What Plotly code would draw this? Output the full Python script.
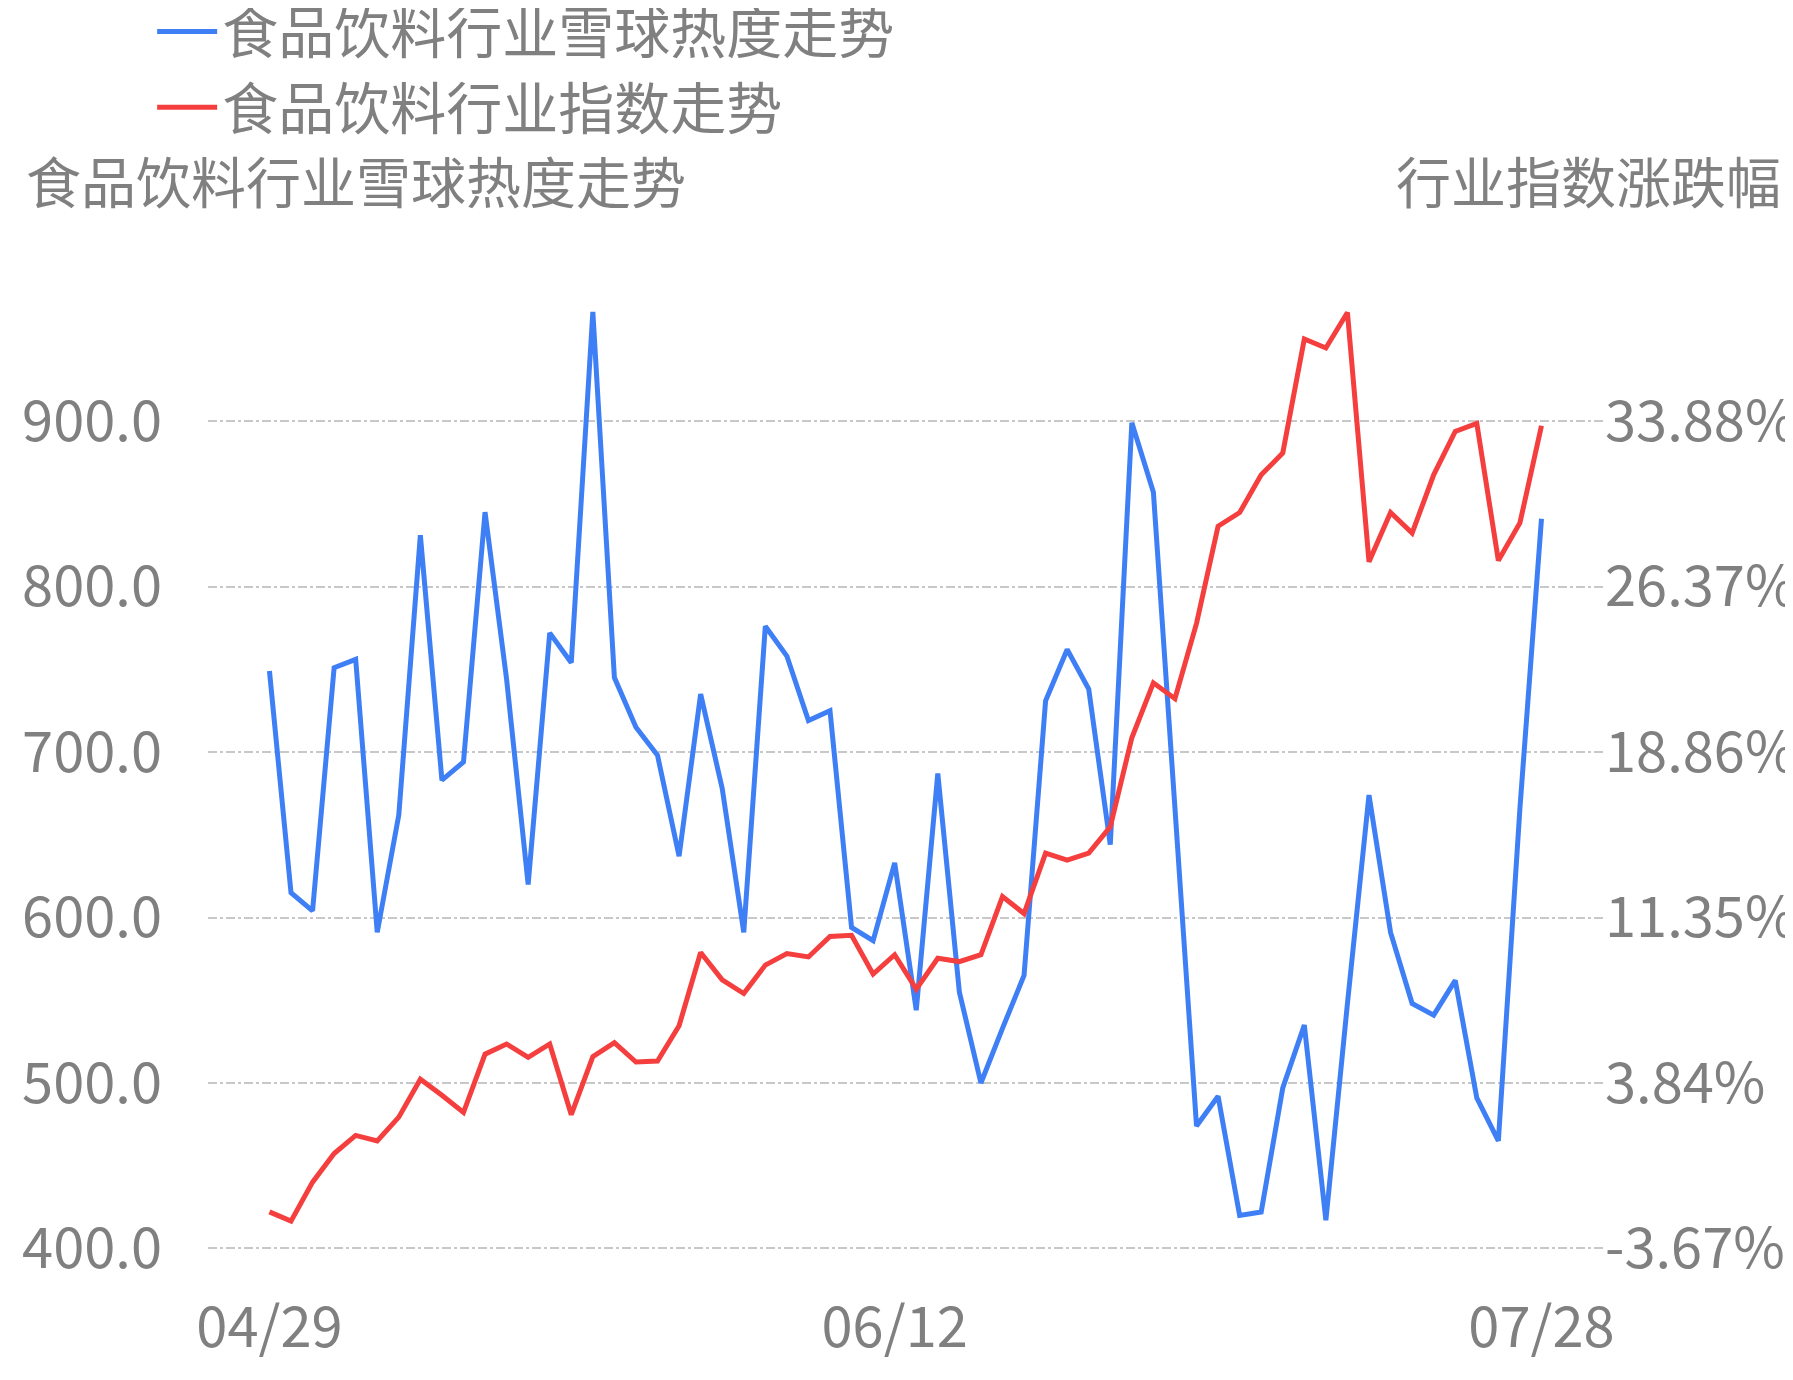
import plotly.graph_objects as go

dates = ["04/29", "06/12", "07/28"]
date_idx = [0, 29, 59]

heat = [749, 615, 604, 751, 756, 591, 662, 831, 683, 694, 845, 744, 620, 772, 754,
        966, 745, 715, 698, 637, 735, 678, 591, 776, 758, 719, 725, 594, 586, 633,
        544, 687, 555, 500, 533, 565, 731, 762, 738, 644, 899, 857, 666, 474, 492,
        420, 422, 497, 535, 417, 548, 674, 591, 548, 541, 562, 491, 465, 666, 841]
index_pct = [-2.01, -2.43, -0.66, 0.64, 1.46, 1.21, 2.29, 4.01, 3.28, 2.50, 5.15, 5.61,
             5.00, 5.61, 2.40, 5.04, 5.67, 4.79, 4.84, 6.44, 9.76, 8.52, 7.90, 9.19,
             9.71, 9.56, 10.49, 10.54, 8.78, 9.66, 8.10, 9.50, 9.35, 9.66, 12.30, 11.53,
             14.27, 13.96, 14.27, 15.47, 19.51, 22.00, 21.28, 24.70, 29.11, 29.73, 31.44,
             32.43, 37.61, 37.20, 38.81, 27.50, 29.73, 28.80, 31.44, 33.41, 33.78, 27.55,
             29.26, 33.67]

left_ticks = [400, 500, 600, 700, 800, 900]
right_ticks = [-3.67, 3.84, 11.35, 18.86, 26.37, 33.88]

x = list(range(len(heat)))
gray = "#808080"

def to_pct(v):
    return 33.88 - (900 - v) * 7.51 / 100

yl = [390, 975]

fig = go.Figure()
fig.add_trace(go.Scatter(x=x, y=heat, mode="lines", name="食品饮料行业雪球热度走势",
                         line=dict(color="#3f7ff5", width=5)))
fig.add_trace(go.Scatter(x=x, y=index_pct, mode="lines", name="食品饮料行业指数走势",
                         line=dict(color="#f53f3f", width=5), yaxis="y2"))

fig.update_layout(
    width=1793, height=1380,
    plot_bgcolor="white", paper_bgcolor="white",
    font=dict(family="Noto Sans CJK SC", color=gray, size=56),
    margin=dict(l=200, r=197, t=289, b=123, autoexpand=False),
    legend=dict(orientation="h", x=-0.04, xanchor="left", y=1.235, yanchor="middle",
                font=dict(size=56, color=gray), itemwidth=60,
                entrywidth=855, entrywidthmode="pixels"),
    xaxis=dict(range=[-2.85, 61.9], tickvals=date_idx, ticktext=dates,
               showgrid=False, zeroline=False, showline=False, ticks="",
               ticklabelstandoff=25, tickfont=dict(size=56, color=gray)),
    yaxis=dict(range=yl, tickvals=left_ticks, ticktext=[f"{v:.1f}" for v in left_ticks],
               showgrid=True, gridcolor="#c8c8c8", griddash="dashdot", gridwidth=1.5,
               zeroline=False, ticklabelstandoff=45, tickfont=dict(size=56, color=gray)),
    yaxis2=dict(range=[to_pct(yl[0]), to_pct(yl[1])], overlaying="y", side="right",
                tickvals=right_ticks, ticktext=[f"{v:.2f}%" for v in right_ticks],
                showgrid=False, zeroline=False, tickfont=dict(size=56, color=gray)),
    annotations=[
        dict(text="食品饮料行业雪球热度走势", xref="paper", yref="paper", x=-0.132, y=1.122,
             xanchor="left", yanchor="middle", showarrow=False, font=dict(size=55, color=gray)),
        dict(text="行业指数涨跌幅", xref="paper", yref="paper", x=1.128, y=1.122,
             xanchor="right", yanchor="middle", showarrow=False, font=dict(size=55, color=gray)),
    ],
)

fig.write_html("out.html")
